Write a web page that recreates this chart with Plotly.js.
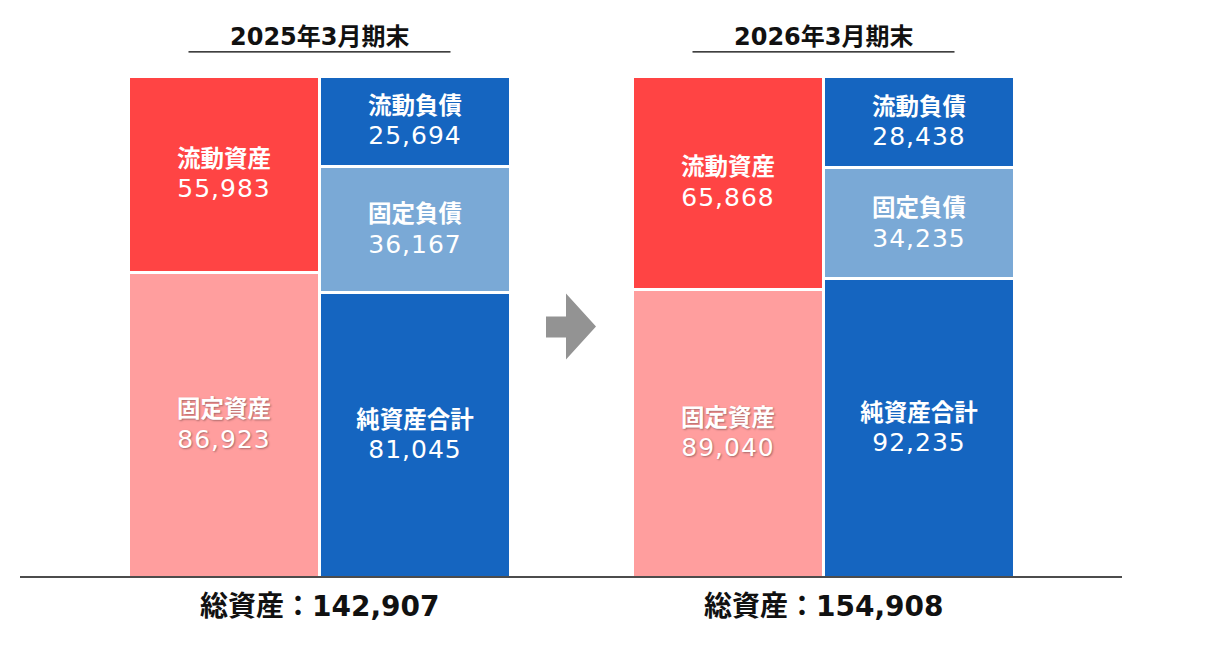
<!DOCTYPE html>
<html>
<head>
<meta charset="utf-8">
<script src="https://cdn.plot.ly/plotly-3.0.1.min.js"></script>
<style>html,body{margin:0;padding:0;background:#fff;}#chart{width:1210px;height:672px;}</style>
</head>
<body>
<div id="chart"></div>
<script>
// ---- data ----
const periods = ['2025年3月期末', '2026年3月期末'];
const currentAssets = [55983, 65868];
const fixedAssets = [86923, 89040];
const currentLiabilities = [25694, 28438];
const fixedLiabilities = [36167, 34235];
const netAssets = [81045, 92235];
const totalAssets = [142907, 154908];
const labels = {
  currentAssets: '流動資産',
  fixedAssets: '固定資産',
  currentLiabilities: '流動負債',
  fixedLiabilities: '固定負債',
  netAssets: '純資産合計',
  total: '総資産：'
};

// ---- layout constants (pixels) ----
const W = 1210, H = 672, TOP = 77, BASE = 577;
const groupLeft = [128.5, 632.5];
const pitch = 191;
const barW = 191;
const gapLine = 3;
const assetX = groupLeft.map(g => g + pitch / 2);
const liabX = groupLeft.map(g => g + pitch * 1.5);
const groupMid = groupLeft.map(g => g + pitch);
const py = p => (BASE - p) / (BASE - TOP);
const fmt = v => v.toLocaleString('en-US');
const FONT = '"DejaVu Sans", "Noto Sans CJK JP", sans-serif';

function txt(name, vals) {
  return vals.map(v => '<b>' + name + '</b><br><span style="font-size:25px;letter-spacing:1px">' + fmt(v) + '</span>');
}
function bar(x, y, name, color, shadow) {
  return {
    type: 'bar', x: x, y: y, width: barW,
    marker: {color: color, line: {color: '#ffffff', width: gapLine}},
    text: txt(name, y), texttemplate: '%{text}', textposition: 'inside',
    insidetextanchor: 'middle', textangle: 0, constraintext: 'none',
    insidetextfont: {family: FONT, size: 23.5, color: '#ffffff', shadow: shadow || 'none'},
    hoverinfo: 'skip', showlegend: false
  };
}

const data = [
  bar(assetX, fixedAssets, labels.fixedAssets, '#FF9E9E', '1px 1px 2px rgba(0,0,0,0.35)'),
  bar(assetX, currentAssets, labels.currentAssets, '#FF4444'),
  bar(liabX, netAssets, labels.netAssets, '#1565C0'),
  bar(liabX, fixedLiabilities, labels.fixedLiabilities, '#7AA9D6'),
  bar(liabX, currentLiabilities, labels.currentLiabilities, '#1565C0')
];

const annotations = [];
const shapes = [];
periods.forEach((p, i) => {
  annotations.push({
    text: '<b>' + p + '</b>', x: groupMid[i], xref: 'x', y: py(38), yref: 'paper',
    showarrow: false, font: {family: FONT, size: 24, color: '#111111'}, xanchor: 'center', yanchor: 'middle'
  });
  annotations.push({
    text: '<b>' + labels.total + fmt(totalAssets[i]) + '</b>', x: groupMid[i], xref: 'x', y: py(606), yref: 'paper',
    showarrow: false, font: {family: FONT, size: 28, color: '#111111'}, xanchor: 'center', yanchor: 'middle'
  });
  shapes.push({
    type: 'line', xref: 'x', yref: 'paper', x0: groupMid[i] - 131, x1: groupMid[i] + 131,
    y0: py(53), y1: py(53), line: {color: '#000000', width: 1.2}
  });
});
// baseline
shapes.push({type: 'line', xref: 'x', yref: 'paper', x0: 20, x1: 1122, y0: 0, y1: 0,
  line: {color: '#111111', width: 1.5}, layer: 'above'});
// arrow
const ax = [546, 566, 566, 596, 566, 566, 546];
const ay = [317, 317, 294, 327, 360, 338, 338];
let path = '';
ax.forEach((x, k) => { path += (k === 0 ? 'M' : 'L') + x + ',' + py(ay[k]) + ' '; });
shapes.push({type: 'path', xref: 'x', yref: 'paper', path: path + 'Z',
  fillcolor: '#939393', line: {width: 0}});

const layout = {
  width: W, height: H,
  margin: {l: 0, r: 0, t: TOP - 1.5, b: H - BASE, pad: 0},
  paper_bgcolor: '#ffffff', plot_bgcolor: '#ffffff',
  barmode: 'stack', barnorm: 'percent',
  xaxis: {range: [0, W], visible: false, fixedrange: true},
  yaxis: {range: [0, 100], visible: false, fixedrange: true},
  annotations: annotations, shapes: shapes,
  showlegend: false
};
Plotly.newPlot('chart', data, layout, {displayModeBar: false, staticPlot: true});
</script>
</body>
</html>
